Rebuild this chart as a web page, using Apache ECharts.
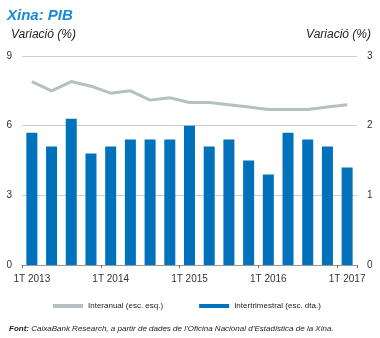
<!DOCTYPE html>
<html><head><meta charset="utf-8">
<script src="https://cdn.jsdelivr.net/npm/echarts@6/dist/echarts.min.js"></script>
<style>html,body{margin:0;padding:0;background:#fff}#c{width:380px;height:338px}</style>
</head><body><div id="c"></div>
<script>
var categories = ['1T 2013','2T 2013','3T 2013','4T 2013','1T 2014','2T 2014','3T 2014','4T 2014','1T 2015','2T 2015','3T 2015','4T 2015','1T 2016','2T 2016','3T 2016','4T 2016','1T 2017'];
var interanual = [7.9,7.5,7.9,7.7,7.4,7.5,7.1,7.2,7.0,7.0,6.9,6.8,6.7,6.7,6.7,6.8,6.9];
var intertrimestral = [1.9,1.7,2.1,1.6,1.7,1.8,1.8,1.8,2.0,1.7,1.8,1.5,1.3,1.9,1.8,1.7,1.4];
var leftTicks = [0,3,6,9];
var rightTicks = [0,1,2,3];
var FF = '"Liberation Sans", sans-serif';
var chart = echarts.init(document.getElementById('c'));
chart.setOption({
  animation:false,
  textStyle:{fontFamily:FF},
  title:[
    {text:'Xina: PIB',left:2,top:3,textStyle:{fontFamily:FF,fontSize:15,fontWeight:'bold',fontStyle:'italic',color:'#1a8ad3'}},
    {text:'Variació (%)',left:6,top:24,textStyle:{fontFamily:FF,fontSize:12,fontWeight:'normal',fontStyle:'italic',color:'#222'}},
    {text:'Variació (%)',right:4,top:24,textStyle:{fontFamily:FF,fontSize:12,fontWeight:'normal',fontStyle:'italic',color:'#222'}},
    {text:'{b|Font:} CaixaBank Research, a partir de dades de l\u2019Oficina Nacional d\u2019Estadística de la Xina.',left:4,top:320,
     textStyle:{fontFamily:FF,fontSize:8,fontWeight:'normal',fontStyle:'italic',color:'#222',rich:{b:{fontFamily:FF,fontSize:8,fontWeight:'bold',fontStyle:'italic',color:'#222'}}}}
  ],
  legend:{left:48,top:297,itemWidth:30,itemHeight:4,itemGap:36,textStyle:{fontFamily:FF,fontSize:8,color:'#222'},
    data:[{name:'Interanual (esc. esq.)',icon:'rect'},{name:'Intertrimestral (esc. dta.)',icon:'rect'}]},
  grid:{left:22,right:23,top:56,bottom:73},
  xAxis:{type:'category',data:categories,boundaryGap:true,
    axisLine:{show:true,lineStyle:{color:'#999',width:1}},
    axisTick:{show:true,interval:3,length:3,lineStyle:{color:'#666'}},
    axisLabel:{interval:3,fontSize:10,color:'#333',margin:9}},
  yAxis:[
    {type:'value',min:0,max:9,interval:3,position:'left',
     axisLabel:{fontSize:10,color:'#333',margin:10,formatter:function(v){return leftTicks.indexOf(v)>=0?String(v):'';}},
     splitLine:{lineStyle:{color:'#cfcfcf',width:1}},axisLine:{show:false},axisTick:{show:false}},
    {type:'value',min:0,max:3,interval:1,position:'right',
     axisLabel:{fontSize:10,color:'#333',margin:10,formatter:function(v){return rightTicks.indexOf(v)>=0?String(v):'';}},
     splitLine:{show:false},axisLine:{show:false},axisTick:{show:false}}
  ],
  series:[
    {name:'Interanual (esc. esq.)',type:'line',yAxisIndex:0,data:interanual,showSymbol:false,symbol:'none',z:3,
     lineStyle:{color:'#b5c0c4',width:3},itemStyle:{color:'#b5c0c4'}},
    {name:'Intertrimestral (esc. dta.)',type:'bar',yAxisIndex:1,data:intertrimestral,barWidth:11,z:2,
     itemStyle:{color:'#0071bb'}}
  ]
});
</script></body></html>
